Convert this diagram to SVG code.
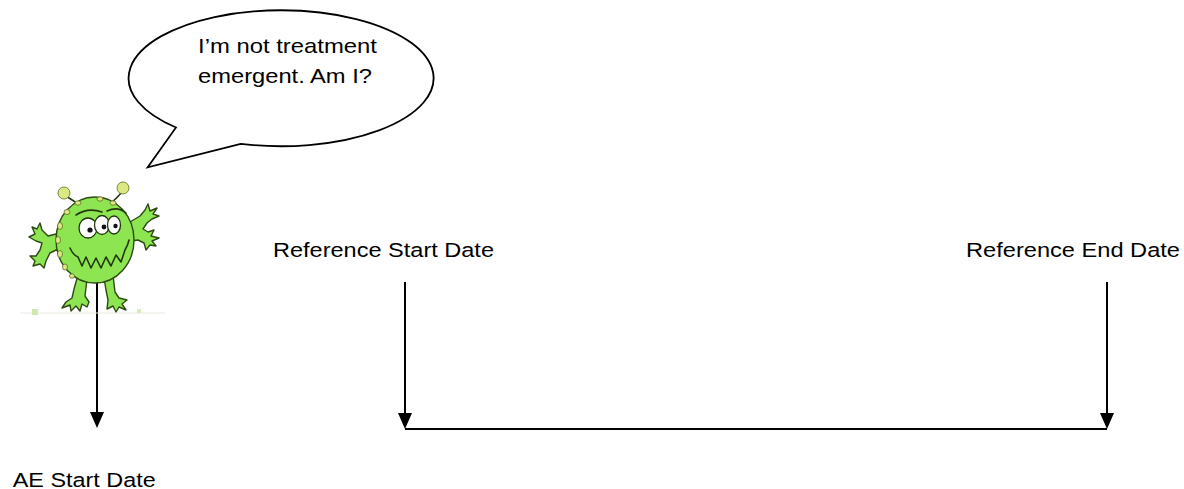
<svg xmlns="http://www.w3.org/2000/svg" width="1184" height="489" viewBox="0 0 1184 489">
  <style>
    .label { font-family: "Liberation Sans", Arial, sans-serif; font-size: 20.5px; fill: #000; }
    .say { font-family: "Liberation Sans", Arial, sans-serif; font-size: 21px; fill: #000; }
    .conn { stroke: #000; stroke-width: 2; fill: none; }
    .skin { fill: #8ee552; stroke: #2f4a14; stroke-width: 1.4; stroke-linejoin: round; }
    .spot { fill: #dbe884; stroke: #5a6b20; stroke-width: 0.8; }
    .ink { fill: none; stroke: #24380e; stroke-width: 1.6; stroke-linecap: round; stroke-linejoin: round; }
    .eye { fill: #fff; stroke: #24380e; stroke-width: 1.3; }
  </style>
  <defs>
    <marker id="head" viewBox="0 0 16 14" refX="2" refY="7" markerWidth="16" markerHeight="14" markerUnits="userSpaceOnUse" orient="auto">
      <path d="M0,0 L16,7 L0,14 Z" fill="#000"/>
    </marker>
  </defs>
  <rect width="1184" height="489" fill="#fff"/>

  <!-- connectors -->
  <g id="connectors">
    <path class="conn" d="M97,282 L97,414" marker-end="url(#head)"/>
    <path class="conn" d="M405,282 L405,415" marker-end="url(#head)"/>
    <path class="conn" d="M1107,282 L1107,415" marker-end="url(#head)"/>
    <path class="conn" d="M405,429 L1107,429"/>
  </g>

  <!-- speech bubble -->
  <g id="bubble">
    <path d="M176,127.5 A152.5,68 0 1 1 240.7,143.8 L147.7,167.3 Z" fill="#fff" stroke="#000" stroke-width="1.8" stroke-linejoin="miter"/>
    <text class="say" x="198" y="53" textLength="179" lengthAdjust="spacingAndGlyphs">I’m not treatment</text>
    <text class="say" x="198" y="83" textLength="174" lengthAdjust="spacingAndGlyphs">emergent. Am I?</text>
  </g>

  <!-- monster -->
  <g id="monster">
    <!-- faint stock watermark strip -->
    <line x1="20" y1="313" x2="165" y2="313" stroke="#e6ece0" stroke-width="1"/>
    <rect x="32" y="309" width="6" height="6" fill="#cfe6b0"/>
    <rect x="137" y="309" width="4" height="4" fill="#d8ecc0"/>
    <!-- antennae -->
    <path class="ink" d="M80,205 Q72,200 66,196"/>
    <path class="ink" d="M111,203 Q118,197 122,192"/>
    <circle class="spot" cx="64" cy="193" r="6"/>
    <circle class="spot" cx="123" cy="188" r="6"/>
    <!-- arms -->
    <path class="skin" d="M60,233 L48,236 L42,230 L40,223 L37,229 L32,227 L35,234 L29,237 L36,241 L42,243 L40,250 L36,256 L30,256 L35,261 L33,266 L40,264 L44,268 L46,261 L50,253 L56,250 L61,251 Z"/>
    <path class="skin" d="M130,222 L140,216 L145,210 L148,204 L150,211 L157,208 L153,214 L159,216 L152,219 L147,223 L143,229 L148,232 L154,230 L151,236 L159,238 L152,241 L156,246 L150,245 L146,250 L144,243 L138,240 L131,241 Z"/>
    <!-- legs -->
    <path class="skin" d="M78,275 L87,279 L85,296 L89,302 L87,307 L82,304 L80,311 L76,306 L71,311 L70,305 L62,308 L66,302 L72,298 L74,289 Z"/>
    <path class="skin" d="M104,278 L113,275 L115,292 L119,298 L127,300 L122,304 L126,310 L119,307 L116,312 L113,306 L107,309 L108,300 L106,290 Z"/>
    <!-- body -->
    <ellipse class="skin" cx="95" cy="240" rx="39" ry="43"/>
    <g>
      <ellipse class="spot" cx="60" cy="226" rx="2.5" ry="3.5"/>
      <ellipse class="spot" cx="58" cy="240" rx="2.5" ry="3.5"/>
      <ellipse class="spot" cx="60" cy="254" rx="2.5" ry="3.5"/>
      <ellipse class="spot" cx="65" cy="267" rx="2.5" ry="3"/>
      <ellipse class="spot" cx="67" cy="212" rx="3" ry="2.5"/>
      <ellipse class="spot" cx="78" cy="203" rx="3" ry="2.2"/>
      <ellipse class="spot" cx="100" cy="199" rx="3" ry="2.2"/>
      <ellipse class="spot" cx="113" cy="203" rx="3" ry="2.2"/>
      <ellipse class="spot" cx="72" cy="276" rx="2.5" ry="2.2"/>
    </g>
    <!-- brows -->
    <path class="ink" d="M76,215 Q88,207 102,212"/>
    <path class="ink" d="M107,211 Q118,206 126,213"/>
    <!-- eyes -->
    <ellipse class="eye" cx="88" cy="228" rx="9" ry="10"/>
    <ellipse class="eye" cx="102" cy="225" rx="7.5" ry="9.5"/>
    <ellipse class="eye" cx="114" cy="225" rx="6.5" ry="9"/>
    <circle cx="90" cy="230" r="2.6" fill="#111"/>
    <circle cx="104" cy="227" r="2.4" fill="#111"/>
    <circle cx="115.5" cy="226" r="2.2" fill="#111"/>
    <!-- grin -->
    <path class="ink" d="M70,248 Q73,255 78,257 L82,266 L86,257 L91,268 L96,258 L101,268 L106,257 L111,266 L116,255 L121,262 L125,250 Q128,245 129,240"/>
  </g>

  <!-- labels -->
  <g id="ref-start"><text class="label" x="273" y="257" textLength="221" lengthAdjust="spacingAndGlyphs">Reference Start Date</text></g>
  <g id="ref-end"><text class="label" x="966" y="257" textLength="214" lengthAdjust="spacingAndGlyphs">Reference End Date</text></g>
  <g id="ae-start"><text class="label" x="12.7" y="487" textLength="143" lengthAdjust="spacingAndGlyphs">AE Start Date</text></g>
</svg>
